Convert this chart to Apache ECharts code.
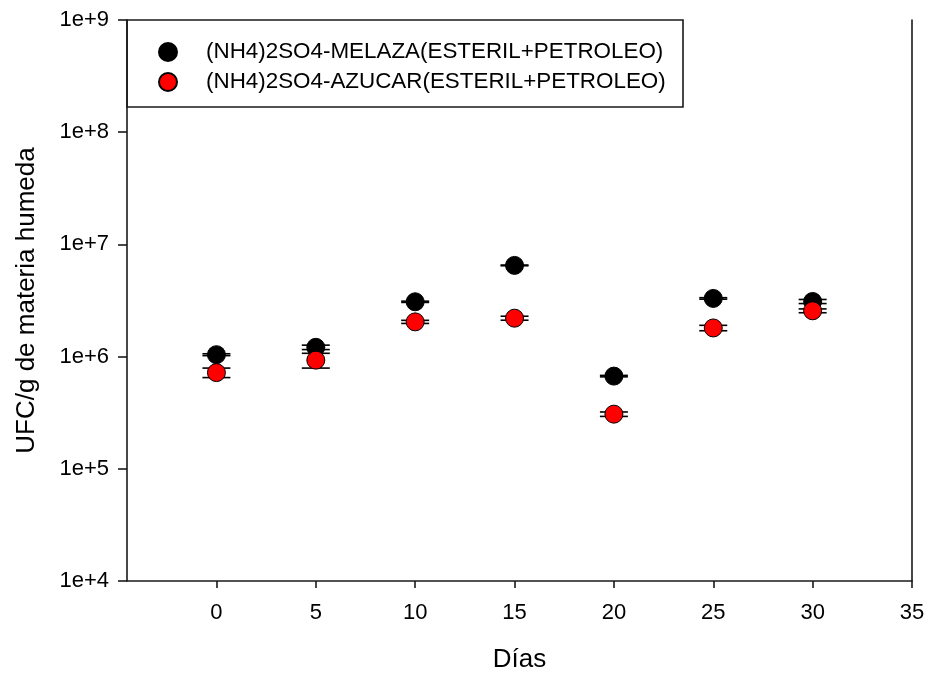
<!DOCTYPE html>
<html>
<head>
<meta charset="utf-8">
<script src="https://cdn.jsdelivr.net/npm/echarts@6/dist/echarts.min.js"></script>
<style>
  html, body { margin: 0; padding: 0; background: #fff; }
  #chart { width: 929px; height: 675px; }
</style>
</head>
<body>
<div id="chart"></div>
<script>
// Sampling days and colony counts (UFC/g, mean ± SD) for the two treatments
const days = [0, 5, 10, 15, 20, 25, 30];
const melaza = [1.04e6, 1.21e6, 3.08e6, 6.5e6, 6.7e5, 3.3e6, 3.1e6];
const melazaSd = [0.02e6, 0.055e6, 0.04e6, 0.05e6, 0.01e6, 0.05e6, 0.13e6];
const azucar = [7.2e5, 9.3e5, 2.04e6, 2.2e6, 3.07e5, 1.8e6, 2.56e6];
const azucarSd = [0.7e5, 1.4e5, 0.065e6, 0.09e6, 0.14e5, 0.1e6, 0.1e6];
const xTicks = [0, 5, 10, 15, 20, 25, 30, 35];
const seriesNames = ['(NH4)2SO4-MELAZA(ESTERIL+PETROLEO)', '(NH4)2SO4-AZUCAR(ESTERIL+PETROLEO)'];

const FONT = "'Liberation Sans', Arial, sans-serif";
const AXIS_COLOR = '#1a1a1a';

function points(vals) { return days.map((d, i) => [d, vals[i]]); }
function bars(vals, sd) { return days.map((d, i) => [d, vals[i] - sd[i], vals[i] + sd[i]]); }

// Vertical error bar with horizontal caps
function errorBar(params, api) {
  const x = api.value(0);
  const lo = api.coord([x, api.value(1)]);
  const hi = api.coord([x, api.value(2)]);
  const half = 14;
  const style = { stroke: '#000', lineWidth: 1.6 };
  return {
    type: 'group',
    children: [
      { type: 'line', shape: { x1: lo[0], y1: lo[1], x2: hi[0], y2: hi[1] }, style },
      { type: 'line', shape: { x1: lo[0] - half, y1: lo[1], x2: lo[0] + half, y2: lo[1] }, style },
      { type: 'line', shape: { x1: hi[0] - half, y1: hi[1], x2: hi[0] + half, y2: hi[1] }, style }
    ]
  };
}

const chart = echarts.init(document.getElementById('chart'), null, { renderer: 'canvas' });

const option = {
  animation: false,
  backgroundColor: '#fff',
  textStyle: { fontFamily: FONT },
  grid: { left: 127, right: 17, top: 20, bottom: 94, outerBoundsMode: 'none', containLabel: false },
  xAxis: {
    type: 'value',
    min: -4.5,
    max: 35,
    name: 'Días',
    nameLocation: 'middle',
    nameGap: 66,
    nameTextStyle: { fontSize: 26, color: '#000', fontFamily: FONT },
    axisLine: { show: true, onZero: false, lineStyle: { color: AXIS_COLOR, width: 1.6 } },
    axisTick: { show: true, inside: false, length: 7, customValues: xTicks, lineStyle: { color: AXIS_COLOR, width: 1.6 } },
    axisLabel: { customValues: xTicks, fontSize: 22, color: '#000', margin: 21, fontFamily: FONT },
    splitLine: { show: false }
  },
  yAxis: [
    {
      type: 'log',
      logBase: 10,
      min: 1e4,
      max: 1e9,
      name: 'UFC/g de materia humeda',
      nameLocation: 'middle',
      nameGap: 87,
      nameTextStyle: { fontSize: 26, color: '#000', fontFamily: FONT },
      axisLine: { show: true, onZero: false, lineStyle: { color: AXIS_COLOR, width: 1.6 } },
      axisTick: { show: true, inside: false, length: 9, lineStyle: { color: AXIS_COLOR, width: 1.6 } },
      axisLabel: {
        fontSize: 22, color: '#000', margin: 18, fontFamily: FONT,
        formatter: v => '1e+' + Math.round(Math.log10(v))
      },
      minorTick: { show: false },
      splitLine: { show: false }
    },
    {
      type: 'log',
      logBase: 10,
      min: 1e4,
      max: 1e9,
      position: 'right',
      axisLine: { show: true, onZero: false, lineStyle: { color: AXIS_COLOR, width: 1.6 } },
      axisTick: { show: false },
      axisLabel: { show: false },
      splitLine: { show: false }
    }
  ],
  legend: {
    data: seriesNames,
    orient: 'vertical',
    left: 158,
    top: 41,
    padding: 0,
    itemWidth: 18,
    itemHeight: 18,
    itemGap: 8,
    icon: 'circle',
    textStyle: { fontSize: 22.4, color: '#000', fontFamily: FONT, padding: [0, 0, 0, 24] }
  },
  graphic: [
    {
      type: 'rect',
      shape: { x: 127, y: 20, width: 556, height: 87 },
      style: { fill: '#fff', stroke: AXIS_COLOR, lineWidth: 1.6 },
      z: 0
    }
  ],
  series: [
    {
      type: 'custom',
      renderItem: errorBar,
      data: bars(melaza, melazaSd),
      encode: { x: 0, y: [1, 2] },
      z: 3
    },
    {
      name: seriesNames[0],
      type: 'scatter',
      data: points(melaza),
      symbol: 'circle',
      symbolSize: 18,
      itemStyle: { color: '#000', borderColor: '#000', borderWidth: 1, opacity: 1 },
      z: 4
    },
    {
      type: 'custom',
      renderItem: errorBar,
      data: bars(azucar, azucarSd),
      encode: { x: 0, y: [1, 2] },
      z: 5
    },
    {
      name: seriesNames[1],
      type: 'scatter',
      data: points(azucar),
      symbol: 'circle',
      symbolSize: 18,
      itemStyle: { color: '#ff0000', borderColor: '#000', borderWidth: 1, opacity: 1 },
      z: 6
    }
  ]
};

chart.setOption(option);
</script>
</body>
</html>
